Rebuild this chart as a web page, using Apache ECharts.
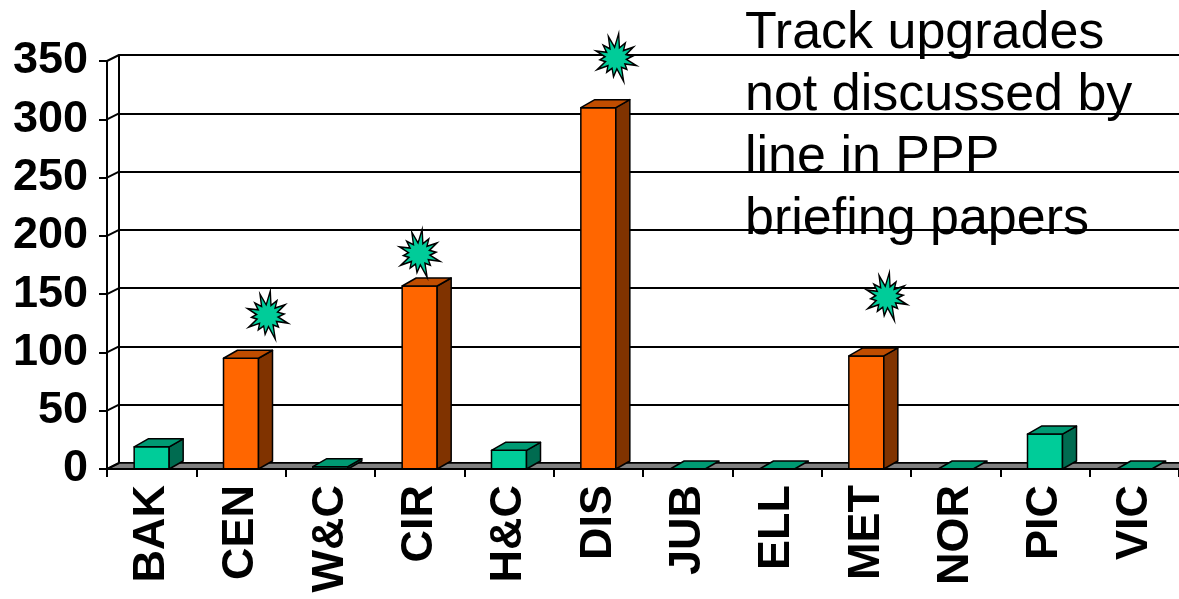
<!DOCTYPE html>
<html>
<head>
<meta charset="utf-8">
<script src="https://cdn.jsdelivr.net/npm/echarts@6/dist/echarts.min.js"></script>
<style>html,body{margin:0;padding:0;background:#fff;}#c{width:1179px;height:599px;}</style>
</head>
<body>
<div id="c"></div>
<script>
// ---- data ----
const categories = ['BAK', 'CEN', 'W&C', 'CIR', 'H&C', 'DIS', 'JUB', 'ELL', 'MET', 'NOR', 'PIC', 'VIC'];
const values     = [19, 95, 2, 157, 16, 310, 0, 0, 97, 0, 30, 0];
const groups     = ['teal', 'orange', 'teal', 'orange', 'teal', 'orange', 'teal', 'teal', 'orange', 'teal', 'teal', 'teal'];
const starX      = [1.3, 3.0, 5.2, 8.23];   // category position of the star markers
const starY      = [132, 185, 353, 148];
const yTicks     = [0, 50, 100, 150, 200, 250, 300, 350];
const noteLines  = ['Track upgrades', 'not discussed by', 'line in PPP', 'briefing papers'];

// ---- styling ----
const FONT = '"Liberation Sans", Arial, sans-serif';
const colors = {
  teal:   { front: '#00CC99', top: '#009A73', side: '#006B50' },
  orange: { front: '#FF6600', top: '#C04D00', side: '#803300' }
};
const WALL_DX = 12, WALL_DY = -6;
const BAR_DX = 14, BAR_DY = -8, BAR_W = 35;

// star path
function starPath() {
  const outer = [50, 36, 42, 34, 44, 32, 50, 38, 34, 44, 32, 42, 36, 46];
  const n = outer.length, inner = 22;
  let pts = [];
  for (let k = 0; k < 2 * n; k++) {
    const a = -Math.PI / 2 + k * Math.PI / n + 0.12;
    const r = k % 2 === 0 ? outer[k / 2] : inner;
    pts.push((50 + r * Math.cos(a)).toFixed(1) + ' ' + (50 + r * Math.sin(a)).toFixed(1));
  }
  return 'path://M' + pts.join(' L') + ' Z';
}

const chart = echarts.init(document.getElementById('c'), null, { renderer: 'canvas' });

const option = {
  animation: false,
  backgroundColor: '#fff',
  grid: [
    { left: 107, top: 61, width: 1077, height: 408 },
    { left: 107 + WALL_DX, top: 61 + WALL_DY, width: 1077, height: 408 }
  ],
  xAxis: [
    {
      type: 'category', gridIndex: 0, data: categories, boundaryGap: true,
      axisLine: { show: true, onZero: false, lineStyle: { color: '#000', width: 2 } },
      axisTick: { show: true, length: 8, alignWithLabel: false, lineStyle: { color: '#000', width: 2 } },
      axisLabel: { rotate: 90, margin: 16, fontFamily: FONT, fontSize: 45, fontWeight: 'bold', color: '#000', interval: 0 },
      z: 5
    },
    { type: 'value', gridIndex: 0, min: -0.5, max: 11.5, show: false },
    { type: 'category', gridIndex: 1, data: categories, show: false }
  ],
  yAxis: [
    {
      type: 'value', gridIndex: 0, min: 0, max: 350, interval: 50,
      axisLine: { show: true, onZero: false, lineStyle: { color: '#000', width: 2 } },
      axisTick: { show: true, length: 8, lineStyle: { color: '#000', width: 2 } },
      axisLabel: { margin: 19, fontFamily: FONT, fontSize: 45, fontWeight: 'bold', color: '#000' },
      splitLine: { show: false }
    },
    {
      type: 'value', gridIndex: 1, min: 0, max: 350, interval: 50,
      axisLine: { show: true, onZero: false, lineStyle: { color: '#000', width: 2 } },
      axisTick: { show: false }, axisLabel: { show: false },
      splitLine: { show: true, lineStyle: { color: '#000', width: 2 } }
    }
  ],
  series: [
    {
      // floor and side wall connectors
      type: 'custom', xAxisIndex: 0, yAxisIndex: 0, z: 1,
      data: yTicks.map(v => [0, v]),
      renderItem: function (params, api) {
        const cs = params.coordSys;
        const y = api.coord([0, api.value(1)])[1];
        const x = cs.x;
        const children = [];
        if (api.value(1) === 0) {
          children.push({
            type: 'polygon',
            shape: { points: [[x, y], [x + cs.width, y], [x + cs.width + WALL_DX, y + WALL_DY], [x + WALL_DX, y + WALL_DY]] },
            style: { fill: '#808080', stroke: '#000', lineWidth: 1.5 }
          });
        }
        children.push({
          type: 'line',
          shape: { x1: x, y1: y, x2: x + WALL_DX, y2: y + WALL_DY },
          style: { stroke: '#000', lineWidth: 2 }
        });
        return { type: 'group', children: children };
      }
    },
    {
      // 3D bars
      type: 'custom', xAxisIndex: 0, yAxisIndex: 0, z: 3,
      data: values.map((v, i) => [i, v]),
      renderItem: function (params, api) {
        const i = api.value(0), v = api.value(1);
        const c = colors[groups[params.dataIndex]];
        const top = api.coord([i, v]);
        const base = api.coord([i, 0]);
        const x0 = top[0] - BAR_W / 2, x1 = x0 + BAR_W;
        const yt = top[1], yb = base[1];
        const st = { stroke: '#000', lineWidth: 1.5, lineJoin: 'round' };
        const children = [];
        if (yb - yt > 0.5) {
          children.push({ type: 'rect', shape: { x: x0, y: yt, width: BAR_W, height: yb - yt }, style: Object.assign({ fill: c.front }, st) });
          children.push({ type: 'polygon', shape: { points: [[x1, yt], [x1 + BAR_DX, yt + BAR_DY], [x1 + BAR_DX, yb + BAR_DY], [x1, yb]] }, style: Object.assign({ fill: c.side }, st) });
        }
        children.push({ type: 'polygon', shape: { points: [[x0, yt], [x1, yt], [x1 + BAR_DX, yt + BAR_DY], [x0 + BAR_DX, yt + BAR_DY]] }, style: Object.assign({ fill: c.top }, st) });
        return { type: 'group', children: children };
      }
    },
    {
      // star markers
      type: 'scatter', xAxisIndex: 1, yAxisIndex: 0, z: 4, clip: false,
      data: starX.map((x, i) => [x, starY[i]]),
      symbol: starPath(), symbolSize: [40, 48],
      itemStyle: { color: '#00CC99', borderColor: '#000', borderWidth: 1.5, opacity: 1 }
    }
  ],
  graphic: [
    {
      type: 'group', z: 100,
      children: [
        { type: 'rect', shape: { x: 720, y: 0, width: 470, height: 258 }, style: { fill: '#fff' } },
        {
          type: 'text', x: 745, y: 3,
          style: { text: noteLines.join('\n'), font: '52px ' + FONT, fill: '#000', lineHeight: 62, verticalAlign: 'top', align: 'left' }
        }
      ]
    }
  ]
};
chart.setOption(option);
</script>
</body>
</html>
